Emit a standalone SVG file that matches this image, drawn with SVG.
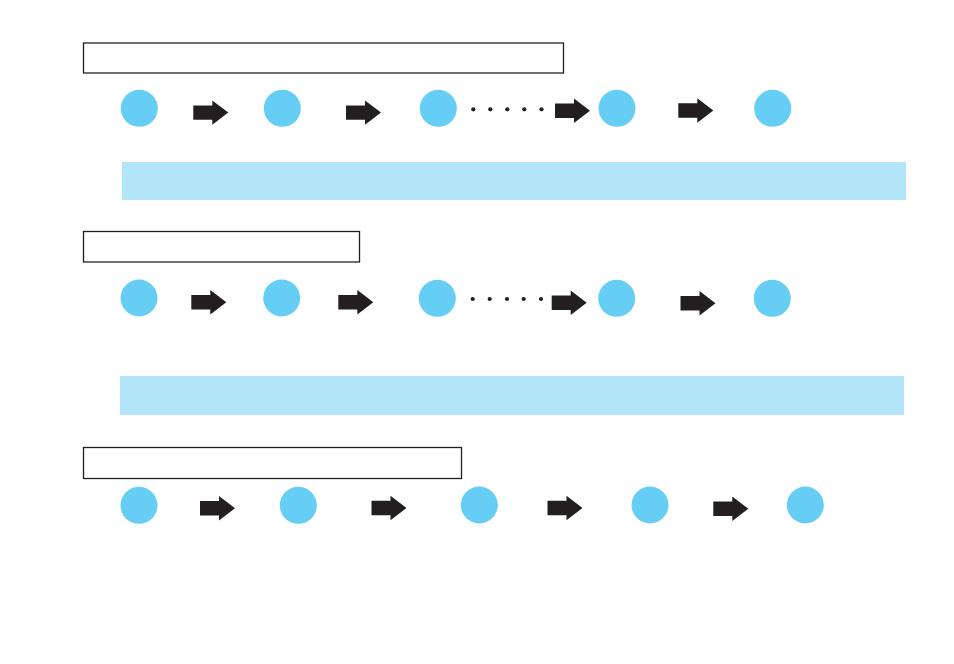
<svg xmlns="http://www.w3.org/2000/svg" xmlns:xlink="http://www.w3.org/1999/xlink" width="954" height="664" viewBox="0 0 954 664">
<style>
.frame{fill:#fff;stroke:#231f20;stroke-width:1.3}
.band{fill:#b3e5f9}
.node{fill:#66cef5}
.arrow{fill:#231f20}
.dot{fill:#231f20}
</style>
<defs>
<path id="arr" d="M0,-7.2 H19 V-12.2 L35,0 L19,12.2 V7.2 H0 Z"/>
</defs>
<rect width="954" height="664" fill="#fff"/>
<g id="frames">
<rect id="frame1" class="frame" x="83.5" y="43" width="480" height="30"/>
<rect id="frame2" class="frame" x="83.5" y="231.5" width="276" height="30.5"/>
<rect id="frame3" class="frame" x="83.5" y="447.5" width="378" height="31"/>
</g>
<g id="bands">
<rect id="band1" class="band" x="122" y="162" width="784" height="38"/>
<rect id="band2" class="band" x="120" y="376" width="784" height="39"/>
</g>
<g id="row1">
<circle id="n1a" class="node" cx="139.3" cy="108.3" r="18.5"/>
<circle id="n1b" class="node" cx="282.3" cy="108.3" r="18.5"/>
<circle id="n1c" class="node" cx="438.3" cy="108.3" r="18.5"/>
<circle id="n1d" class="node" cx="617" cy="108.3" r="18.5"/>
<circle id="n1e" class="node" cx="772.7" cy="108.3" r="18.5"/>
</g>
<g id="row2">
<circle id="n2a" class="node" cx="139" cy="298" r="18.5"/>
<circle id="n2b" class="node" cx="281.7" cy="298" r="18.5"/>
<circle id="n2c" class="node" cx="437.3" cy="298.3" r="18.5"/>
<circle id="n2d" class="node" cx="616.7" cy="298.3" r="18.5"/>
<circle id="n2e" class="node" cx="772.3" cy="298.3" r="18.5"/>
</g>
<g id="row3">
<circle id="n3a" class="node" cx="139" cy="505.3" r="18.5"/>
<circle id="n3b" class="node" cx="298.3" cy="505.3" r="18.5"/>
<circle id="n3c" class="node" cx="479.3" cy="505" r="18.5"/>
<circle id="n3d" class="node" cx="650" cy="505" r="18.5"/>
<circle id="n3e" class="node" cx="805.3" cy="505" r="18.5"/>
</g>
<g id="connectors">
<use xlink:href="#arr" class="arrow" x="193.3" y="112.6"/>
<use xlink:href="#arr" class="arrow" x="346" y="112.6"/>
<use xlink:href="#arr" class="arrow" x="555" y="110.8"/>
<use xlink:href="#arr" class="arrow" x="678.3" y="110.5"/>
<g id="dots1">
<circle class="dot" cx="473.3" cy="109.3" r="2.1"/>
<circle class="dot" cx="490.3" cy="109.3" r="2.1"/>
<circle class="dot" cx="507.3" cy="109.3" r="2.1"/>
<circle class="dot" cx="524.3" cy="109.3" r="2.1"/>
<circle class="dot" cx="541.5" cy="109.3" r="2.1"/>
</g>
<use xlink:href="#arr" class="arrow" x="191.3" y="302.2"/>
<use xlink:href="#arr" class="arrow" x="338.3" y="302.2"/>
<use xlink:href="#arr" class="arrow" x="551.7" y="302.8"/>
<use xlink:href="#arr" class="arrow" x="680.5" y="303.2"/>
<g id="dots2">
<circle class="dot" cx="472.7" cy="299" r="2.1"/>
<circle class="dot" cx="489.7" cy="299" r="2.1"/>
<circle class="dot" cx="507" cy="299" r="2.1"/>
<circle class="dot" cx="523.7" cy="299" r="2.1"/>
<circle class="dot" cx="541" cy="299" r="2.1"/>
</g>
<use xlink:href="#arr" class="arrow" x="200" y="508.2"/>
<use xlink:href="#arr" class="arrow" x="371.5" y="508"/>
<use xlink:href="#arr" class="arrow" x="547.5" y="508"/>
<use xlink:href="#arr" class="arrow" x="713.3" y="508.8"/>
</g>
</svg>
